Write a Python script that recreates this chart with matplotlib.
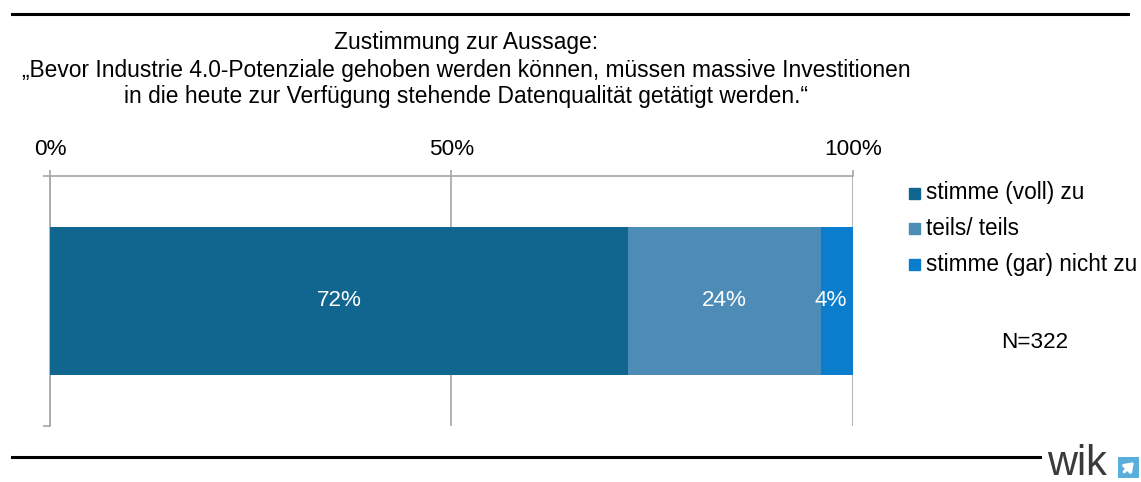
import matplotlib
matplotlib.use("Agg")
import matplotlib.pyplot as plt
from matplotlib.patches import Rectangle

plt.rcParams['font.family'] = ['Liberation Sans', 'DejaVu Sans']

# data
categories = ["stimme (voll) zu", "teils/ teils", "stimme (gar) nicht zu"]
shares = [72, 24, 4]
bar_labels = ["72%", "24%", "4%"]
colors = ["#10668F", "#4C8CB7", "#0A7ECD"]
x_ticks = [0, 50, 100]
x_ticklabels = ["0%", "50%", "100%"]
title_lines = [
    "Zustimmung zur Aussage:",
    "\u201eBevor Industrie 4.0-Potenziale gehoben werden k\u00f6nnen, m\u00fcssen massive Investitionen",
    "in die heute zur Verf\u00fcgung stehende Datenqualit\u00e4t get\u00e4tigt werden.\u201c",
]
n_text = "N=322"

W, H = 1141, 482
fig = plt.figure(figsize=(W / 100, H / 100), dpi=100)

grey = "#A6A6A6"
ax = fig.add_axes([50 / W, 1 - 426 / H, (853 - 50) / W, (426 - 176) / H])
ax.set_xlim(0, 100)
ax.set_ylim(-0.5, 0.5)

left = 0
for val, col, lab in zip(shares, colors, bar_labels):
    ax.barh(0, val, left=left, height=0.59, color=col, edgecolor="none", zorder=3)
    # the small segment's label sits a touch left of centre in the original
    xpos = left + val / 2 if val > 10 else left + val / 2 - 0.8
    ax.text(xpos, 0, lab, color="white", fontsize=16.2,
            ha="center", va="center", zorder=4)
    left += val

# axes styling
for side in ["right", "bottom"]:
    ax.spines[side].set_visible(False)
for side in ["top", "left"]:
    ax.spines[side].set_color(grey)
    ax.spines[side].set_linewidth(1.2)
ax.xaxis.tick_top()
ax.set_xticks(x_ticks)
ax.set_xticklabels(x_ticklabels, fontsize=16.2)
ax.tick_params(axis="x", length=4.5, width=1.2, color=grey, pad=7)
ax.set_yticks([-0.5, 0.5])
ax.set_yticklabels([])
ax.tick_params(axis="y", length=5, width=1.2, color=grey)
ax.grid(axis="x", color=grey, linewidth=1.2, zorder=0)
ax.set_axisbelow(True)

# legend
for i, (cat, col) in enumerate(zip(categories, colors)):
    y = 193 + i * 35.5
    fig.patches.append(Rectangle((909 / W, 1 - (y + 5.5) / H), 11 / W, 11 / H,
                                 transform=fig.transFigure, color=col))
    fig.text(926 / W, 1 - y / H, cat, fontsize=16.3, ha="left", va="center")

fig.text(1035 / W, 1 - 342 / H, n_text, fontsize=16.2, ha="center", va="center")

# title
for line, y in zip(title_lines, [42, 70, 97]):
    fig.text(466 / W, 1 - y / H, line, fontsize=16.4, ha="center", va="center")

# decorative rules
fig.add_artist(plt.Line2D([12 / W, 1128 / W], [1 - 14 / H, 1 - 14 / H],
                          color="black", linewidth=2.2))
fig.add_artist(plt.Line2D([12 / W, 1040 / W], [1 - 457 / H, 1 - 457 / H],
                          color="black", linewidth=2.2))

# logo
fig.text(1077 / W, 1 - 475 / H, "wik", fontsize=30, color="#3A3A3A",
         ha="center", va="baseline")
lax = fig.add_axes([1118 / W, 1 - 478 / H, 21 / W, 21 / H])
lax.set_xlim(0, 1)
lax.set_ylim(0, 1)
lax.axis("off")
lax.add_patch(Rectangle((0, 0), 1, 1, color="#5AAEDB"))
lax.annotate("", xy=(0.85, 0.85), xytext=(0.2, 0.2),
             arrowprops=dict(arrowstyle="-|>,head_width=0.35,head_length=0.5",
                             color="white", lw=2.2))

fig.savefig("out.png", dpi=100)
